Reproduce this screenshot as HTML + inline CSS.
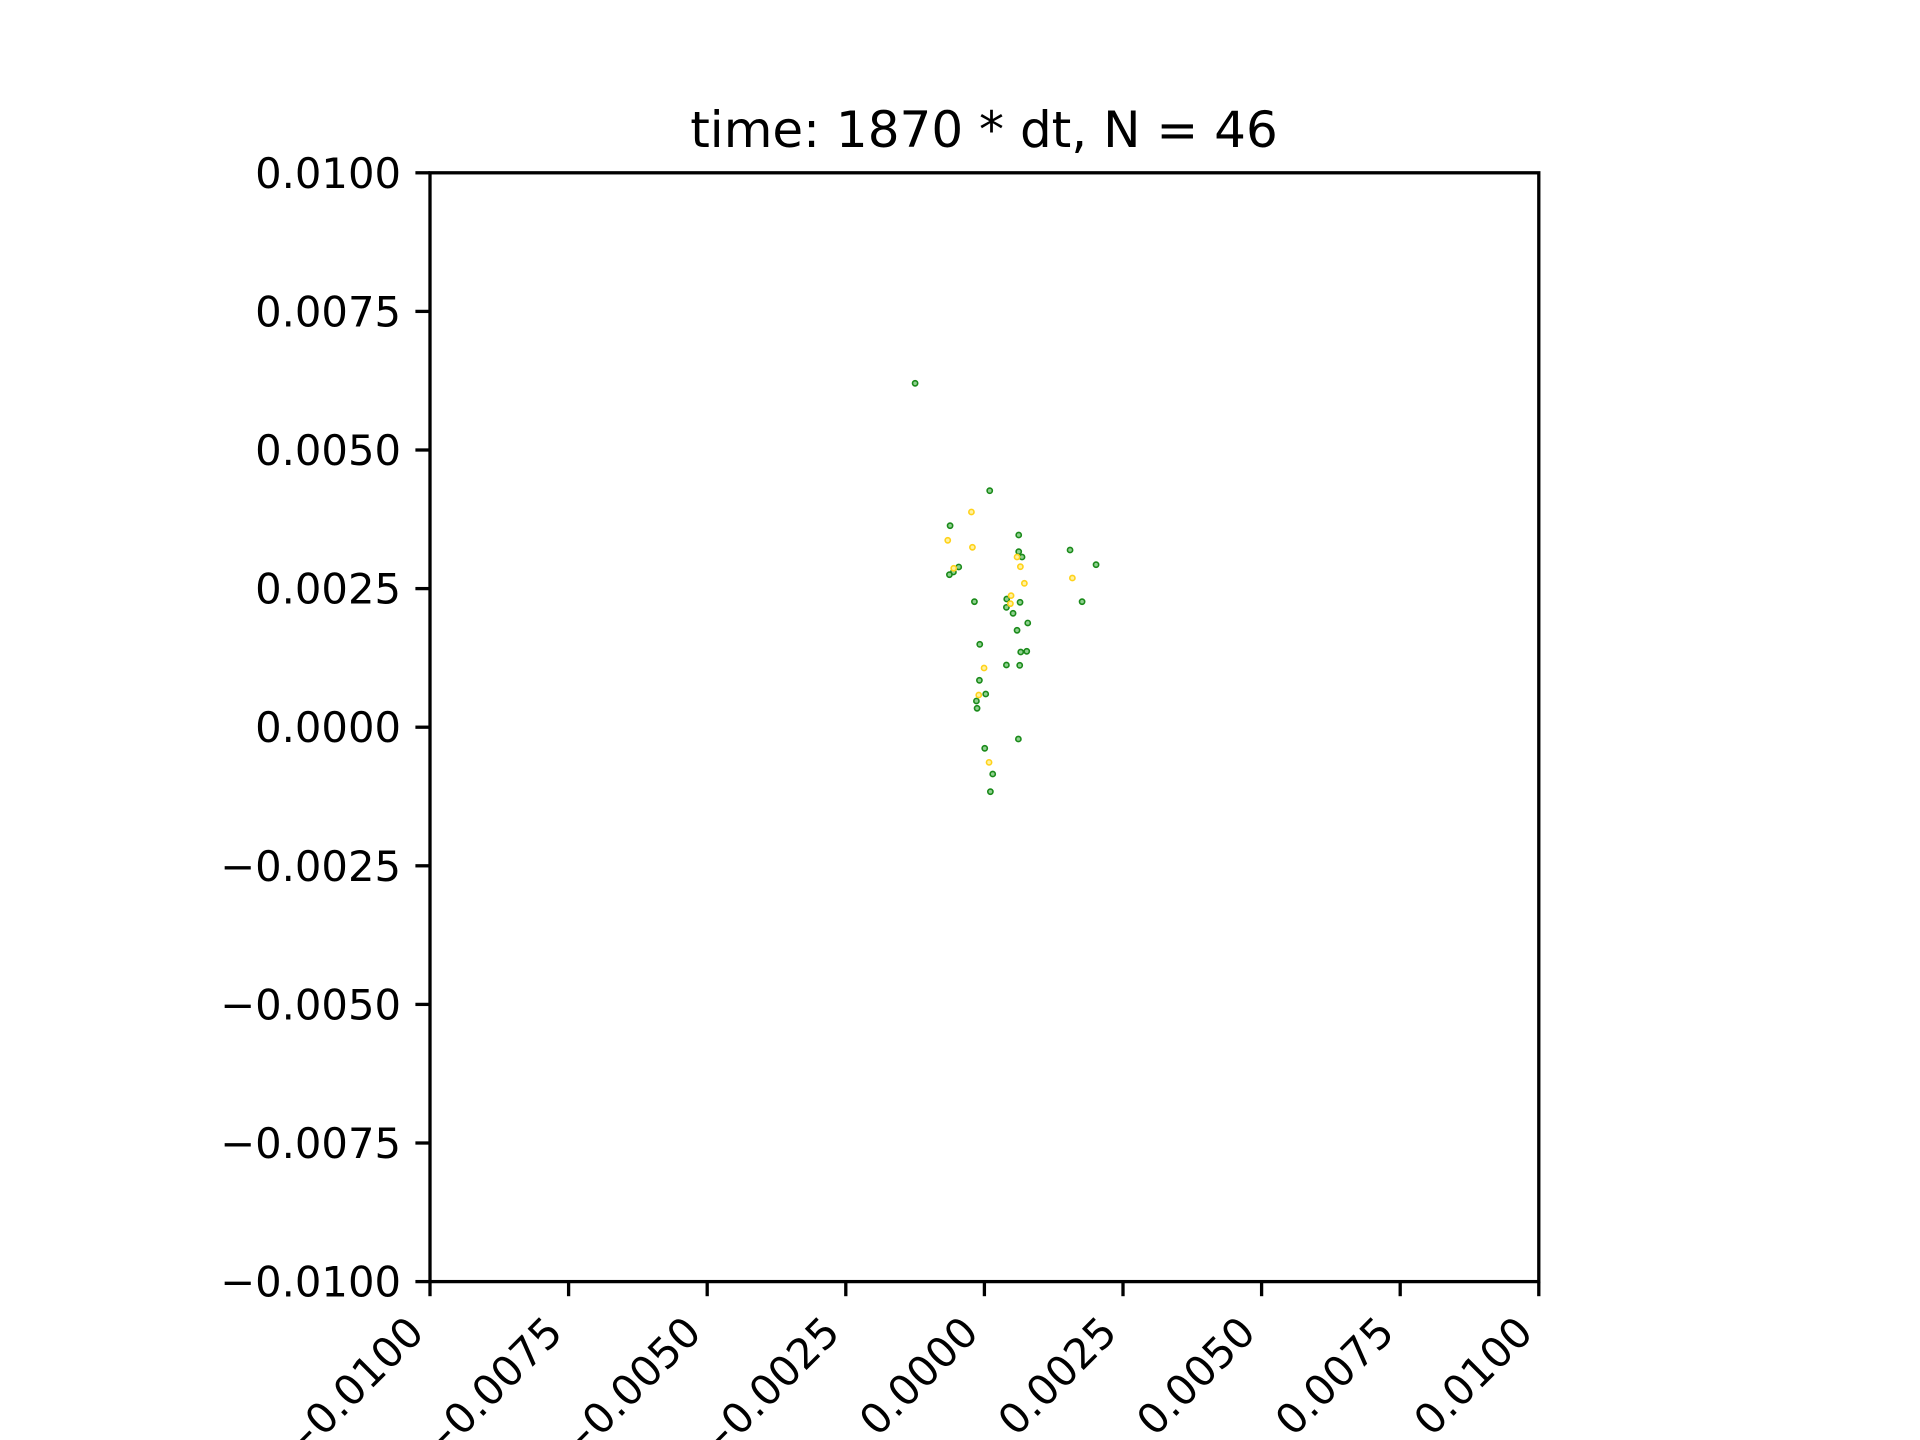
<!DOCTYPE html>
<html><head><meta charset="utf-8"><style>
html,body{margin:0;padding:0;background:#fff}
svg{display:block}
text{font-family:"DejaVu Sans","Liberation Sans",sans-serif;fill:#000}
</style></head><body>
<svg id="chart" width="1920" height="1440" viewBox="0 0 1920 1440" xmlns="http://www.w3.org/2000/svg">
<rect width="1920" height="1440" fill="#fff"/>
<text x="984" y="147" font-size="50" text-anchor="middle">time: 1870 * dt, N = 46</text>
<g id="ticks"></g>
<g id="points"></g>
<rect x="430" y="172.8" width="1108.8" height="1108.8" fill="none" stroke="#000" stroke-width="3.3"/>
</svg>
<script>
const xTicks = [-0.01,-0.0075,-0.005,-0.0025,0,0.0025,0.005,0.0075,0.01];
const yTicks = [-0.01,-0.0075,-0.005,-0.0025,0,0.0025,0.005,0.0075,0.01];
const tickLabels = ["\u22120.0100","\u22120.0075","\u22120.0050","\u22120.0025","0.0000","0.0025","0.0050","0.0075","0.0100"];
const greenX = [0.000096,-0.000619,0.000619,0.000619,0.000679,0.001545,0.002014,-0.000463,-0.000559,-0.000631,0.000403,-0.00018,0.000643,0.001762,0.000397,0.000517,0.000782,0.000589,-0.000084,0.000655,0.000764,0.000397,0.000637,-0.00009,0.000024,-0.000144,-0.000132,0.000613,0.000006,0.00015,0.000108,-0.00125];
const greenY = [0.004266,0.003635,0.003467,0.003166,0.00307,0.003196,0.002931,0.00289,0.002799,0.002751,0.002312,0.002264,0.002253,0.002264,0.002162,0.002054,0.00188,0.001748,0.001495,0.001356,0.001369,0.001122,0.001116,0.000846,0.000599,0.000473,0.000341,-0.000213,-0.000381,-0.000844,-0.001163,0.006203];
const yellowX = [-0.000234,-0.000661,-0.000216,0.000589,0.000649,-0.000553,0.001587,0.000721,0.000481,0.000469,-0.000006,-0.000102,0.000084];
const yellowY = [0.003882,0.003371,0.003245,0.00307,0.002895,0.002866,0.002691,0.002595,0.002373,0.002228,0.001068,0.000581,-0.000634];

const L=430,T=172.8,S=1108.8;
const sx=v=>L+(v+0.01)/0.02*S;
const sy=v=>T+(0.01-v)/0.02*S;
const NS="http://www.w3.org/2000/svg";
const tg=document.getElementById('ticks');
function mk(tag,attrs,parent){const e=document.createElementNS(NS,tag);for(const k in attrs)e.setAttribute(k,attrs[k]);parent.appendChild(e);return e;}
xTicks.forEach((v,i)=>{
  const x=sx(v);
  const t=mk('line',{x1:x,x2:x,y1:T+S,y2:T+S+14.6,stroke:'#000','stroke-width':3.3},tg);
  
  
  const ax=x-26, ay=T+S+31;
  const lb=mk('text',{x:ax,y:ay,'font-size':41.7,'text-anchor':'end','dominant-baseline':'hanging',transform:`rotate(-45 ${ax} ${ay})`},tg);
  lb.textContent=tickLabels[i];
  
  
});
yTicks.forEach((v,i)=>{
  const y=sy(v);
  const t=mk('line',{x1:L-14.6,x2:L,y1:y,y2:y,stroke:'#000','stroke-width':3.3},tg);
  
  
  const lb=mk('text',{x:L-29,y:y+15,'font-size':41.7,'text-anchor':'end'},tg);
  lb.textContent=tickLabels[i];
  
  
});
const pg=document.getElementById('points');
function drawPts(xs,ys,stroke,fill,name){
  xs.forEach((v,i)=>{
    const c=mk('circle',{cx:sx(v),cy:sy(ys[i]),r:2.6,fill:fill,stroke:stroke,'stroke-width':1.6},pg);
    
    
  });
}
drawPts(greenX,greenY,'#1a8a1a','#8fd08f','green-point');
drawPts(yellowX,yellowY,'#ffd21a','#fff2a0','yellow-point');
</script>
</body></html>
